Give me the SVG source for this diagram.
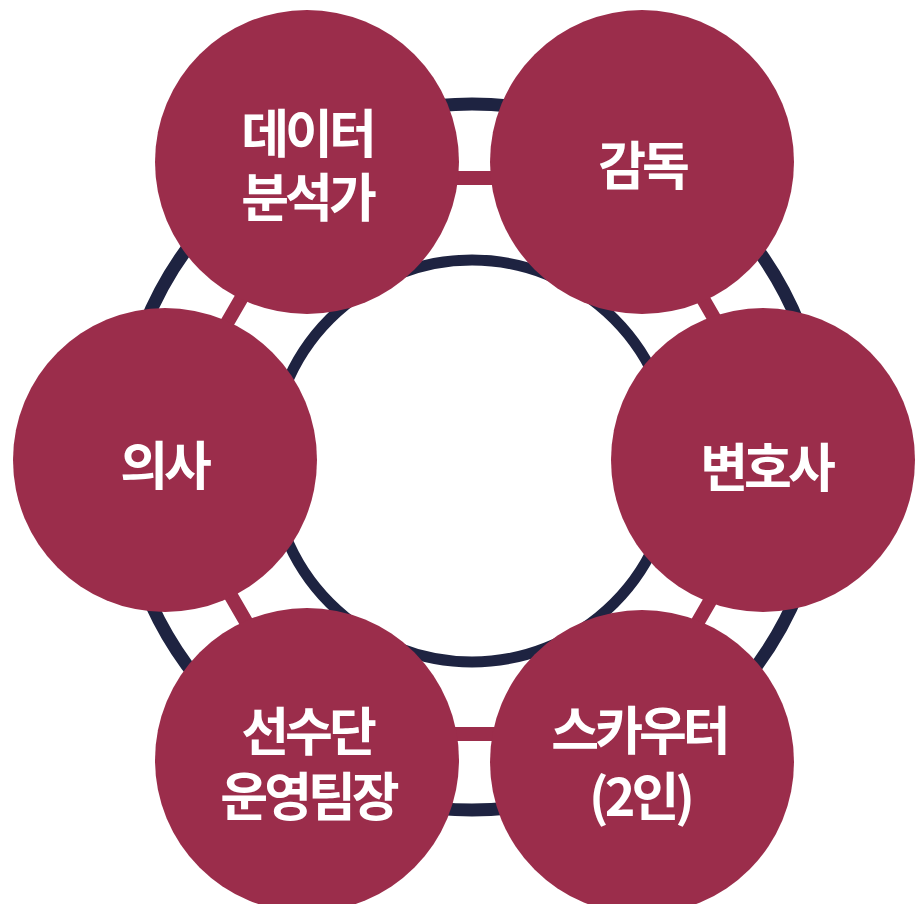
<svg xmlns="http://www.w3.org/2000/svg" width="917" height="904" viewBox="0 0 917 904">
<style>
.ring{fill:none;stroke:#1e2341;}
.bar{fill:none;stroke:#9b2d4b;stroke-width:14;stroke-linejoin:miter;}
.node{fill:#9b2d4b;}
.lbl{fill:#ffffff;font-family:"Noto Sans CJK KR","Noto Sans",sans-serif;font-weight:700;font-size:52px;letter-spacing:-4px;text-anchor:middle;}
</style>
<rect width="917" height="904" fill="#ffffff"/>
<g id="rings">
<circle class="ring" cx="472" cy="457" r="353" stroke-width="13"/>
<circle class="ring" cx="472" cy="461" r="201" stroke-width="11"/>
</g>
<g id="connectors">
<polygon class="bar" points="311,178 633,178 794,456 633,734 311,734 150,456"/>
</g>
<g id="n-data">
<circle class="node" cx="307" cy="162" r="152"/>
<text class="lbl" x="307" y="153">데이터</text>
<text class="lbl" x="307" y="217">분석가</text>
</g>
<g id="n-coach">
<circle class="node" cx="642" cy="162" r="152"/>
<text class="lbl" x="642" y="185">감독</text>
</g>
<g id="n-doctor">
<circle class="node" cx="165" cy="460" r="152"/>
<text class="lbl" x="164" y="485">의사</text>
</g>
<g id="n-lawyer">
<circle class="node" cx="763" cy="460" r="152"/>
<text class="lbl" x="766" y="487">변호사</text>
</g>
<g id="n-manager">
<circle class="node" cx="307" cy="760" r="152"/>
<text class="lbl" x="307" y="751">선수단</text>
<text class="lbl" x="308" y="816">운영팀장</text>
</g>
<g id="n-scout">
<circle class="node" cx="642" cy="762" r="152"/>
<text class="lbl" x="639" y="750">스카우터</text>
<text class="lbl" x="640" y="816">(2인)</text>
</g>
</svg>
